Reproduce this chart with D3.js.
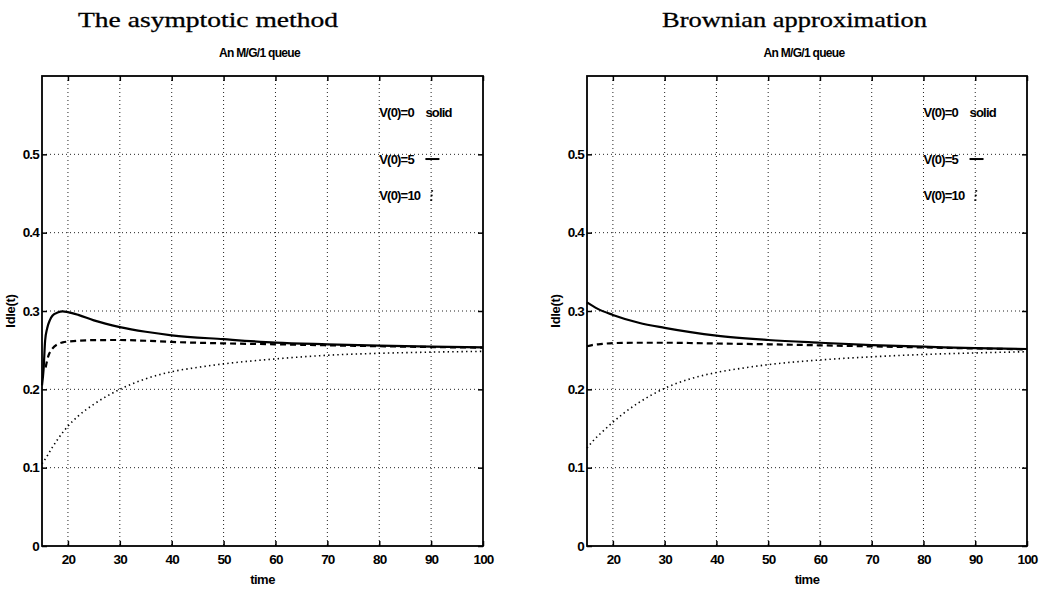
<!DOCTYPE html>
<html><head><meta charset="utf-8">
<script src="https://cdn.jsdelivr.net/npm/d3@7"></script>
<style>
body{margin:0;background:#fff;}
svg{display:block;}
.tick text{font-family:"Liberation Sans",Arial,sans-serif;font-weight:bold;font-size:13.5px;letter-spacing:-0.8px;fill:#000;}
</style></head>
<body><svg id="c" width="1041" height="591"></svg>
<script>
// ---- data ----
const panelTitles = ["The asymptotic method", "Brownian approximation"];
const subTitle = "An M/G/1 queue";
const xLabel = "time";
const yLabel = "Idle(t)";
const xTicks = [20, 30, 40, 50, 60, 70, 80, 90, 100];
const yTicks = [0, 0.1, 0.2, 0.3, 0.4, 0.5];
const legendLabels = ["V(0)=0", "V(0)=5", "V(0)=10"];
const legendY = [0.553, 0.494, 0.448];

// left panel (asymptotic method)
const asymV0 = [[15,0.205],[15.3,0.225],[15.6,0.262],[16,0.278],[16.5,0.288],[17,0.294],[18,0.298],[19,0.2995],[20,0.2985],[22,0.295],[25,0.288],[30,0.2795],[35,0.2735],[40,0.269],[50,0.264],[60,0.2597],[70,0.2575],[80,0.2557],[90,0.2545],[100,0.2535]];
const asymV5 = [[15.7,0.228],[16.2,0.242],[17,0.252],[18,0.2575],[19,0.26],[20,0.261],[25,0.2628],[30,0.263],[35,0.262],[40,0.2605],[50,0.2587],[60,0.2575],[70,0.2562],[80,0.255],[90,0.254],[100,0.2532]];
const asymV10 = [[15,0.105],[16,0.115],[17,0.126],[18,0.136],[20,0.153],[22,0.166],[25,0.181],[30,0.2],[35,0.2135],[40,0.2225],[45,0.228],[50,0.2325],[60,0.2388],[70,0.2435],[80,0.246],[90,0.2475],[100,0.2485]];

// right panel (Brownian approximation)
const brownV0 = [[15,0.311],[17,0.303],[20,0.295],[25,0.285],[30,0.2785],[35,0.273],[40,0.2685],[50,0.263],[60,0.2595],[70,0.2565],[80,0.2545],[90,0.2525],[100,0.2515]];
const brownV5 = [[15,0.255],[16,0.2565],[18,0.258],[20,0.259],[25,0.2595],[30,0.2595],[40,0.2585],[50,0.2575],[60,0.2562],[70,0.2548],[80,0.2535],[90,0.2522],[100,0.251]];
const brownV10 = [[15,0.125],[16,0.133],[18,0.146],[20,0.158],[22,0.169],[25,0.183],[30,0.2013],[35,0.2135],[40,0.2215],[45,0.227],[50,0.2315],[60,0.2375],[70,0.2415],[80,0.2445],[90,0.2465],[100,0.248]];

const panels = [
  {title: panelTitles[0], series: [asymV0, asymV5, asymV10], left: 42, right: 483, titleX: 78, titleW: 260},
  {title: panelTitles[1], series: [brownV0, brownV5, brownV10], left: 587, right: 1027, titleX: 662, titleW: 265}
];

const svg = d3.select("#c");
svg.append("rect").attr("width",1041).attr("height",591).attr("fill","#fff");
const plotTop = 76, plotBottom = 546;
const styles = [
  {w:2.2, dash:null},
  {w:2.2, dash:"6,4"},
  {w:1.6, dash:"1.4,3.2"}
];

panels.forEach(p => {
  const x = d3.scaleLinear().domain([15,100]).range([p.left, p.right]);
  const y = d3.scaleLinear().domain([0,0.6]).range([plotBottom, plotTop]);
  const g = svg.append("g");

  // big title
  g.append("text").attr("x", p.titleX).attr("y", 27)
    .attr("textLength", p.titleW).attr("lengthAdjust","spacingAndGlyphs")
    .style("font-family","'Liberation Serif','Times New Roman',serif").style("font-size","21px")
    .style("stroke","#000").style("stroke-width","0.3px")
    .text(p.title);
  // sub title
  g.append("text").attr("x", (p.left+p.right)/2 - 3).attr("y", 57).attr("text-anchor","middle")
    .style("font-family","'Liberation Sans',Arial,sans-serif").style("font-weight","bold")
    .style("font-size","12px").style("letter-spacing","-0.7px")
    .text(subTitle);

  // grid
  const grid = g.append("g").attr("stroke","#222").attr("stroke-width",1).attr("stroke-dasharray","1,3");
  grid.selectAll("line.gx").data(xTicks.filter(t=>t<100)).join("line").attr("class","gx")
    .attr("x1",d=>x(d)).attr("x2",d=>x(d)).attr("y1",plotTop).attr("y2",plotBottom);
  grid.selectAll("line.gy").data(yTicks.filter(t=>t>0)).join("line").attr("class","gy")
    .attr("y1",d=>y(d)).attr("y2",d=>y(d)).attr("x1",p.left).attr("x2",p.right);

  // axes (ticks inward)
  const ax = g.append("g").attr("transform",`translate(0,${plotBottom})`)
    .call(d3.axisBottom(x).tickValues(xTicks).tickSize(-5).tickPadding(8).tickFormat(d3.format("d")));
  const ay = g.append("g").attr("transform",`translate(${p.left},0)`)
    .call(d3.axisLeft(y).tickValues(yTicks).tickSize(-5).tickPadding(3).tickFormat(d=> d===0 ? "0" : d3.format(".1f")(d)));
  const at = g.append("g").attr("transform",`translate(0,${plotTop})`)
    .call(d3.axisTop(x).tickValues(xTicks).tickSize(-5).tickFormat(""));
  const ar = g.append("g").attr("transform",`translate(${p.right},0)`)
    .call(d3.axisRight(y).tickValues(yTicks).tickSize(-5).tickFormat(""));
  [ax,ay,at,ar].forEach(a => { a.select(".domain").remove(); a.selectAll(".tick line").attr("stroke","#000").attr("stroke-width",1.5); });

  // frame
  g.append("rect").attr("x",p.left).attr("y",plotTop).attr("width",p.right-p.left).attr("height",plotBottom-plotTop)
    .attr("fill","none").attr("stroke","#000").attr("stroke-width",1.8);

  // axis labels
  g.append("text").attr("x",(p.left+p.right)/2).attr("y",584).attr("text-anchor","middle")
    .style("font-family","'Liberation Sans',Arial,sans-serif").style("font-weight","bold").style("font-size","13px").style("letter-spacing","-0.5px")
    .text(xLabel);
  g.append("text").attr("transform",`translate(${p.left-27},${(plotTop+plotBottom)/2}) rotate(-90)`).attr("text-anchor","middle")
    .style("font-family","'Liberation Sans',Arial,sans-serif").style("font-weight","bold").style("font-size","13px").style("letter-spacing","-0.3px")
    .text(yLabel);

  // curves
  const line = d3.line().x(d=>x(d[0])).y(d=>y(d[1])).curve(d3.curveMonotoneX);
  p.series.forEach((s,i) => {
    g.append("path").datum(s).attr("d",line).attr("fill","none").attr("stroke","#000")
      .attr("stroke-width",styles[i].w).attr("stroke-dasharray",styles[i].dash);
  });

  // legend
  const lf = t => t.style("font-family","'Liberation Sans',Arial,sans-serif").style("font-weight","bold").style("font-size","13px").style("letter-spacing","-0.8px");
  legendLabels.forEach((lab,i) => {
    g.append("text").attr("x",x(80)).attr("y",y(legendY[i])).attr("dy","0.35em").call(lf).text(lab);
  });
  g.append("text").attr("x",x(88.9)).attr("y",y(legendY[0])).attr("dy","0.35em").call(lf).text("solid");
  g.append("line").attr("x1",x(88.9)).attr("x2",x(91.6)).attr("y1",y(legendY[1])).attr("y2",y(legendY[1]))
    .attr("stroke","#000").attr("stroke-width",2);
  g.append("line").attr("x1",x(90.2)).attr("x2",x(90.0)).attr("y1",y(legendY[2])-5).attr("y2",y(legendY[2])+6)
    .attr("stroke","#000").attr("stroke-width",2).attr("stroke-dasharray","1.6,3");
});
</script></body></html>
